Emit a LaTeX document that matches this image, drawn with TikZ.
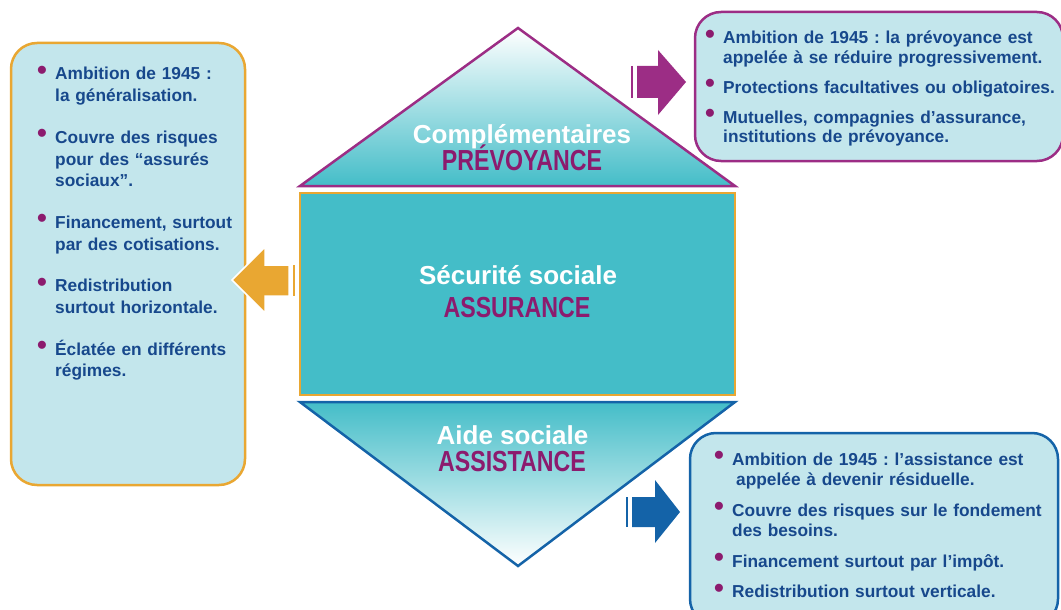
\documentclass[tikz,border=0pt]{standalone}
\usepackage{fontspec}
\setmainfont{Liberation Sans}
\newfontfamily\etroite[FakeStretch=0.8]{Liberation Sans}
\usepackage{xcolor}
\usepackage{tikz}
\usetikzlibrary{positioning}
\definecolor{turquoise}{HTML}{44BDC8}
\definecolor{bleuclair}{HTML}{C3E6EC}
\definecolor{orangeb}{HTML}{E9A732}
\definecolor{violetb}{HTML}{9C2D85}
\definecolor{violett}{HTML}{8C1B6E}
\definecolor{bleub}{HTML}{1463A8}
\definecolor{bleut}{HTML}{17488C}
\newcommand\puce[1]{\hangindent=18pt\hangafter=1\noindent\makebox[18pt][l]{\textcolor{violett}{\raisebox{0.5pt}{\fontsize{28}{28}\selectfont\textbullet}}}#1\par}

\begin{document}
\frenchspacing
\begin{tikzpicture}[x=1pt, y=-1pt,
boite/.style = {draw=#1, line width=2.5pt, fill=bleuclair, rounded corners=26pt, inner sep=0pt},
liste/.style = {anchor=base west, inner sep=0pt, text width=#1, align=left, text=bleut},
toit/.style = {draw=#1, line width=2.5pt, top color=white, bottom color=turquoise},
socle/.style = {draw=#1, line width=2.5pt, top color=turquoise, bottom color=white},
fleche/.style = {fill=#1, draw=white, line width=1.5pt},
barre/.style = {draw=#1, line width=2pt},
titre/.style = {anchor=base, inner sep=0pt, text=white, font=\bfseries\fontsize{26}{30}\selectfont},
regime/.style = {anchor=base, inner sep=0pt, text=violett, font=\etroite\bfseries\fontsize{29}{32}\selectfont}
]
    \useasboundingbox (0,0) rectangle (1061,610);

    \coordinate (hs) at (518,28);
    \coordinate (hg) at (300,186);
    \coordinate (hd) at (735,186);
    \coordinate (bs) at (518,566);
    \coordinate (bg) at (300,402);
    \coordinate (bd) at (735,402);

    \draw [toit=violetb] (hs) -- (hd) -- (hg) -- cycle;
    \draw [socle=bleub] (bg) -- (bd) -- (bs) -- cycle;
    \node [draw=orangeb, line width=2.5pt, fill=turquoise, minimum width=435pt, minimum height=202pt] (secu) at (517.5,294) {};

    \node [boite=orangeb, minimum width=234pt, minimum height=442pt] (gauche) at (128,264) {};
    \node [boite=violetb, minimum width=368pt, minimum height=149pt] (haut) at (879,86.5) {};
    \node [boite=bleub, minimum width=368pt, minimum height=192pt] (bas) at (874,529) {};

    \coordinate (fg) at (232,280);
    \draw [fleche=orangeb] (fg) -- (265,247) -- (265,265) -- (289,265) -- (289,296) -- (265,296) -- (265,313) -- cycle;
    \draw [barre=orangeb] (294,265) -- (294,296);

    \coordinate (fh) at (686,82);
    \fill [violetb] (fh) -- (658,50) -- (658,66) -- (637,66) -- (637,98) -- (658,98) -- (658,115) -- cycle;
    \draw [barre=violetb] (632,66) -- (632,98);

    \coordinate (fb) at (680,512);
    \fill [bleub] (fb) -- (655,480) -- (655,497) -- (632,497) -- (632,527) -- (655,527) -- (655,543) -- cycle;
    \draw [barre=bleub] (627,497) -- (627,527);

    \node [titre] (comp) at (522,143) {Complémentaires};
    \node [regime] (prev) at (522,170) {PRÉVOYANCE};
    \node [titre] (secut) at (518,284) {Sécurité sociale};
    \node [regime] (assur) at (517,317) {ASSURANCE};
    \node [titre] (aide) at (512.5,444) {Aide sociale};
    \node [regime] (assist) at (512,471) {ASSISTANCE};

    \node [liste=205pt, font=\bfseries\fontsize{17.3}{21.7}\selectfont] (txtg) at (37,80) {\setlength\parskip{20pt}%
      \puce{Ambition de 1945 :\newline la généralisation.}
      \puce{Couvre des risques\newline pour des “assurés\newline sociaux”.}
      \puce{Financement, surtout\newline par des cotisations.}
      \puce{Redistribution\newline surtout horizontale.}
      \puce{Éclatée en différents\newline régimes.}};

    \node [liste=355pt, font=\bfseries\fontsize{17.3}{19.5}\selectfont] (txth) at (705,44) {\setlength\parskip{10.5pt}%
      \puce{Ambition de 1945 : la prévoyance est\newline appelée à se réduire progressivement.}
      \puce{Protections facultatives ou obligatoires.}
      \puce{Mutuelles, compagnies d’assurance,\newline institutions de prévoyance.}};

    \node [liste=345pt, font=\bfseries\fontsize{17.3}{20.5}\selectfont] (txtb) at (714,465) {\setlength\parskip{10pt}%
      \puce{Ambition de 1945 : l’assistance est\newline\hspace*{4pt}appelée à devenir résiduelle.}
      \puce{Couvre des risques sur le fondement\newline des besoins.}
      \puce{Financement surtout par l’impôt.}
      \puce{Redistribution surtout verticale.}};

\end{tikzpicture}
\end{document}
